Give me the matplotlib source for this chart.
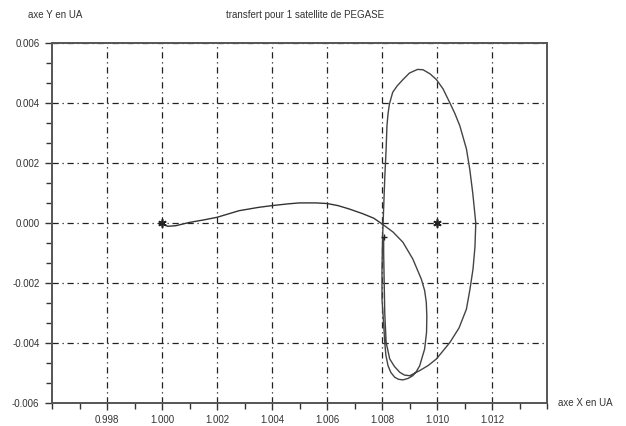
import matplotlib
matplotlib.use("Agg")
import matplotlib.pyplot as plt
from matplotlib.ticker import MultipleLocator, FixedLocator

plt.rcParams['font.family'] = ['Liberation Sans', 'DejaVu Sans']

# Transfer from Earth towards L2 region
transfer_x = [1.0000, 1.0002, 1.0005, 1.0010, 1.0015, 1.0020, 1.0028, 1.0035, 1.0040,
              1.0046, 1.0050, 1.0056, 1.0060, 1.0064, 1.0068, 1.0073, 1.0077, 1.0080]
transfer_y = [0.0000, -0.00011, -0.00009, 0.00002, 0.00010, 0.00019, 0.00041, 0.00052, 0.00058,
              0.00064, 0.00067, 0.00067, 0.00065, 0.00058, 0.00047, 0.00031, 0.00016, -0.00003]

# Orbit around L2 (inner loop then big loop)
orbit_x = [1.0080, 1.0084, 1.00876, 1.00912, 1.00943, 1.00955, 1.00961, 1.00963, 1.00962,
           1.00955, 1.00937, 1.00925, 1.00912, 1.00895, 1.00876, 1.00860, 1.00846, 1.00832,
           1.00822, 1.00814, 1.00810, 1.00804, 1.00800, 1.00800, 1.00802, 1.00806, 1.00810,
           1.00815, 1.00818, 1.00822, 1.00827, 1.00839, 1.00856, 1.00876, 1.00900, 1.00929,
           1.00949, 1.00975, 1.00998, 1.01022, 1.01046, 1.01065, 1.01083, 1.01107, 1.01119,
           1.01130, 1.01141, 1.01138, 1.01131, 1.01120, 1.01107, 1.01080, 1.01047, 1.00998,
           1.00968, 1.00937, 1.00901, 1.00882, 1.00865, 1.00845, 1.00828, 1.00815, 1.00810,
           1.00808, 1.00806, 1.00806]
orbit_y = [-0.00003, -0.00030, -0.00064, -0.00120, -0.00187, -0.00225, -0.00264, -0.00310, -0.00364,
           -0.00420, -0.00476, -0.00495, -0.00509, -0.00518, -0.00523, -0.00521, -0.00514, -0.00498,
           -0.00476, -0.00440, -0.00398, -0.00309, -0.00253, -0.00150, -0.00050, 0.00050, 0.00150,
           0.00247, 0.00324, 0.00365, 0.00397, 0.00436, 0.00458, 0.00478, 0.00500, 0.00512,
           0.00511, 0.00497, 0.00478, 0.00447, 0.00402, 0.00365, 0.00324, 0.00247, 0.00180,
           0.00100, 0.00000, -0.00080, -0.00153, -0.00220, -0.00287, -0.00350, -0.00398, -0.00453,
           -0.00475, -0.00492, -0.00509, -0.00507, -0.00498, -0.00478, -0.00453, -0.00398, -0.00300,
           -0.00200, -0.00100, -0.00050]

star_x = [1.000, 1.010]
star_y = [0.0, 0.0]
end_x = [1.00806]
end_y = [-0.00048]

x_ticks = [0.998, 1.000, 1.002, 1.004, 1.006, 1.008, 1.010, 1.012]
x_ticklabels = ["0.998", "1.000", "1.002", "1.004", "1.006", "1.008", "1.010", "1.012"]
y_ticks = [-0.006, -0.004, -0.002, 0.000, 0.002, 0.004, 0.006]
y_ticklabels = ["-0.006", "-0.004", "-0.002", "0.000", "0.002", "0.004", "0.006"]

fig = plt.figure(figsize=(6.26, 4.26), dpi=100)
ax = fig.add_axes([0.0831, 0.054, 0.7907, 0.845])

txtc = '#333333'
ax.plot(transfer_x, transfer_y, color='#333333', lw=1.0)
ax.plot(orbit_x, orbit_y, color='#444444', lw=1.0)
ax.plot(star_x, star_y, ls='none', marker=(6, 2, 0), ms=6, mew=1.2, color='#222222')
ax.plot(end_x, end_y, ls='none', marker='+', ms=5, mew=1.0, color='#222222')

ax.set_xlim(0.996, 1.014)
ax.set_ylim(-0.006, 0.006)
ax.xaxis.set_major_locator(FixedLocator(x_ticks))
ax.set_xticklabels(x_ticklabels)
ax.yaxis.set_major_locator(FixedLocator(y_ticks))
ax.set_yticklabels(y_ticklabels)
ax.xaxis.set_minor_locator(MultipleLocator(0.001))
ax.yaxis.set_minor_locator(MultipleLocator(0.002 / 3))

ax.tick_params(which='major', direction='out', length=5, width=1, labelsize=7,
               labelcolor=txtc, color='#333333', pad=4)
ax.tick_params(which='minor', direction='out', length=4, width=1, color='#333333')

ax.grid(True, which='major', color='#222222', linestyle=(0, (5, 3, 1, 3)), linewidth=0.9)

for s in ax.spines.values():
    s.set_color('#555555')
    s.set_linewidth(1.4)

fig.text(0.088, 0.965, "axe Y en UA", fontsize=7, color=txtc, ha='center', va='center')
fig.text(0.487, 0.965, "transfert pour 1 satellite de PEGASE", fontsize=7, color=txtc,
         ha='center', va='center')
fig.text(0.891, 0.054, "axe X en UA", fontsize=7, color=txtc, ha='left', va='center')

fig.savefig("out.png", dpi=100)
